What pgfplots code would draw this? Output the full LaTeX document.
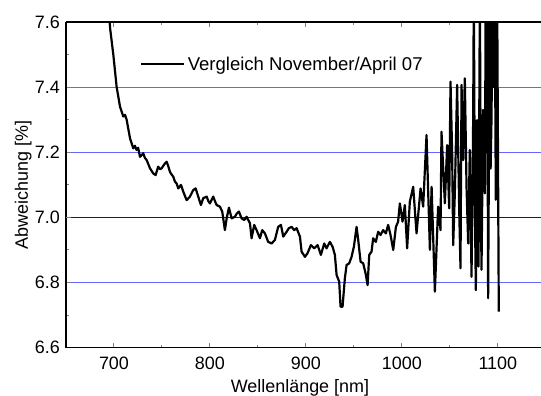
\documentclass[border=0pt]{standalone}
\usepackage{pgfplots}
\pgfplotsset{compat=1.18}
\usepackage{fontspec}
\setmainfont{Liberation Sans}
\definecolor{gridblue}{RGB}{100,100,255}

\begin{document}
\begin{tikzpicture}
\begin{axis}[
  scale only axis,
  width=475bp, height=325.7bp,
  xmin=650, xmax=1145,
  ymin=6.6, ymax=7.6,
  axis x line*=box,
  axis y line*=left,
  axis line style={-, line width=1.2pt, black},
  xtick={700,800,900,1000,1100},
  minor xtick={650,750,850,950,1050},
  ytick={6.6,6.8,7.0,7.2,7.4,7.6},
  minor ytick={6.7,6.9,7.1,7.3,7.5},
  tick align=inside,
  major tick length=5bp,
  minor tick length=3bp,
  tick style={line width=1pt},
  ymajorgrids,
  major grid style={gridblue, line width=1.1pt},
  extra y ticks={7.0},
  extra y tick labels={},
  extra y tick style={grid=major, major grid style={blue, line width=0.9pt}},
  y tick label style={/pgf/number format/fixed, /pgf/number format/fixed zerofill,
    /pgf/number format/precision=1, anchor=east, inner sep=0pt, xshift=-6bp},
  x tick label style={/pgf/number format/1000 sep={}, anchor=base, inner sep=0pt, yshift=-21.3bp},
  /pgf/number format/assume math mode=true,
  tick label style={font=\fontsize{18}{21}\selectfont},
  label style={font=\fontsize{18}{21}\selectfont},
  xlabel={Wellenlänge [nm]},
  ylabel={Abweichung [\%]},
  xlabel style={at={(axis description cs:0.4926,0)}, anchor=base, inner sep=0pt, yshift=-44.8bp},
  ylabel style={at={(axis description cs:-0.08,0.5)}, anchor=base, inner sep=0pt},
  legend style={at={(axis cs:727,7.47)}, anchor=west, draw=none, fill=none,
    inner sep=0pt, font=\fontsize{18.6}{21}\selectfont,
    nodes={inner sep=0pt, inner xsep=2.5bp}},
  legend cell align=left,
  legend image code/.code={\draw[black, line width=2.2pt] (0bp,0bp) -- (43bp,0bp);},
]
\coordinate (sw) at (rel axis cs:0,0);
\addplot[black, line width=2.2pt, line join=round] coordinates {
(690,7.85) (694,7.66) (696,7.58) (699.3,7.50) (702.8,7.40) (706.3,7.34)
(709.7,7.31) (711.5,7.315) (713.2,7.30) (716.7,7.243) (720.1,7.212) (721.8,7.22)
(723.6,7.207) (725.2,7.214) (727.1,7.186) (730.5,7.197) (732.2,7.183) (734.1,7.176)
(737.5,7.151) (740.9,7.135) (743.4,7.13) (746.1,7.156) (748.0,7.148) (749.7,7.151)
(752.4,7.163) (754.9,7.171) (756.5,7.158) (758.3,7.14) (760.0,7.132) (761.8,7.125)
(763.5,7.110) (765.3,7.104) (767.0,7.089) (769.8,7.10) (772.2,7.079) (775.7,7.053)
(779.2,7.064) (782.6,7.084) (785.1,7.089) (787.8,7.064) (790.6,7.038) (793.0,7.059)
(796.6,7.064) (798.3,7.050) (800.0,7.043) (803.4,7.064) (805.2,7.050) (807.0,7.038)
(810.4,7.033) (812.8,7.018) (815.6,6.961) (817.4,6.997) (819.8,7.030) (822.6,6.997)
(826.0,7.002) (828.0,7.012) (830.2,7.018) (833.0,6.997) (835.8,6.992) (838.2,7.002)
(841.7,6.982) (843.4,6.936) (846.1,6.977) (848.6,6.961) (852.1,6.936) (854.5,6.961)
(857.3,6.951) (860.7,6.925) (864.3,6.920) (867.7,6.931) (871.1,6.971) (874.0,6.977)
(876.4,6.941) (879.9,6.956) (882.3,6.967) (885.1,6.971) (887.8,6.961) (890.3,6.967)
(893.8,6.941) (895.5,6.895) (899.0,6.879) (901.7,6.890) (905.2,6.915) (908.7,6.905)
(912.2,6.915) (915.6,6.885) (919.1,6.920) (921.5,6.905) (925.0,6.925) (927.8,6.910)
(930.2,6.885) (932.0,6.823) (934.7,6.803) (936.1,6.726) (938.2,6.726) (940.6,6.813)
(942.4,6.854) (945.1,6.859) (947.6,6.879) (950.0,6.910) (952.8,6.971) (954.5,6.931)
(957.0,6.864) (959.7,6.859) (962.2,6.828) (964.3,6.792) (966.0,6.885) (968.4,6.895)
(970.1,6.936) (972.9,6.925) (975.3,6.956) (977.8,6.946) (980.5,6.961) (983.3,6.951)
(985.7,6.977) (988.2,6.946) (991.0,6.900) (993.8,6.971) (996.1,6.987) (997.9,7.043)
(1000.7,6.987) (1003.1,7.038) (1005.5,6.905) (1008.3,7.048) (1011.8,7.094) (1015.3,6.951)
(1019.5,7.089) (1022.2,7.033) (1025.7,7.253) (1029.2,6.90) (1031.0,7.094) (1034.4,6.772)
(1037.8,7.033) (1040.3,6.961) (1041.3,7.263) (1043.0,7.156) (1044.8,7.043) (1047.2,7.222)
(1049.3,7.028) (1050.7,7.417) (1052.4,7.197) (1053.5,6.915) (1055.2,7.074) (1057.6,7.407)
(1059.7,7.033) (1061.1,6.844) (1062.2,7.407) (1063.9,7.176) (1065.6,7.427) (1067.4,7.094)
(1069.1,6.92) (1070.8,7.207) (1072.6,6.818) (1074.3,7.299) (1075.0,7.70) (1076.0,7.05)
(1077.1,6.777) (1078.4,7.299) (1079.9,6.849) (1081.3,7.70) (1082.2,7.10) (1083.0,6.839)
(1084.7,7.33) (1086.5,7.074) (1087.4,7.70) (1088.2,7.20) (1088.9,7.70) (1089.9,6.752)
(1091.7,7.70) (1092.5,7.15) (1093.4,7.299) (1094.6,7.70) (1095.8,7.40) (1096.8,7.70)
(1097.9,7.054) (1099.3,7.70) (1101.0,6.711)
};
\addlegendentry{Vergleich November/April 07}
\end{axis}
\pgfresetboundingbox
\path (sw) ++(-66bp,-48.3bp) rectangle ++(541bp,396bp);
\end{tikzpicture}
\end{document}
